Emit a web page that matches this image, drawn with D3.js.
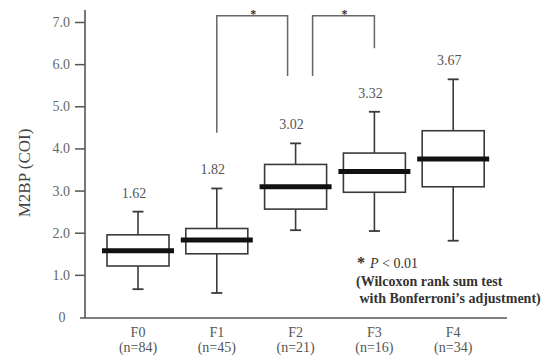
<!DOCTYPE html>
<html>
<head>
<meta charset="utf-8">
<script src="https://cdn.jsdelivr.net/npm/d3@7"></script>
<style>
  html, body { margin: 0; padding: 0; background: #fff; }
  svg { display: block; }
  text { font-family: "Liberation Serif", "Times New Roman", serif; }
</style>
</head>
<body>
<svg id="chart" width="560" height="359"></svg>
<script>
// ---- data ----
const categories = ["F0", "F1", "F2", "F3", "F4"];
const sampleSizes = ["(n=84)", "(n=45)", "(n=21)", "(n=16)", "(n=34)"];
const whiskerLow  = [0.66, 0.57, 2.06, 2.04, 1.81];
const q1Values    = [1.21, 1.50, 2.56, 2.96, 3.09];
const medians     = [1.57, 1.83, 3.09, 3.45, 3.75];
const q3Values    = [1.95, 2.10, 3.62, 3.89, 4.42];
const whiskerHigh = [2.50, 3.05, 4.12, 4.87, 5.64];
const medianLabels = ["1.62", "1.82", "3.02", "3.32", "3.67"];
const yTicks = [0, 1, 2, 3, 4, 5, 6, 7];
const yTickLabels = ["0", "1.0", "2.0", "3.0", "4.0", "5.0", "6.0", "7.0"];
// significance brackets: left category, right category, top value, left leg end, right leg end
const bracketFrom = ["F1", "F2"];
const bracketTo   = ["F2", "F3"];
const bracketTop  = [7.15, 7.15];
const bracketLeftEnd  = [4.37, 5.72];
const bracketRightEnd = [5.72, 6.38];
const legendLines = ["(Wilcoxon rank sum test", " with Bonferroni\u2019s adjustment)"];

// ---- layout ----
const svg = d3.select("#chart");
const x = d3.scalePoint().domain(categories).range([138, 453.2]);
const y = d3.scaleLinear().domain([0, 7]).range([317, 22]);
const axisX = 85;
const baseY = 318;
const boxW = 62, medW = 72, capW = 11;
const ink = "#3a3a3a";

// y axis
svg.append("line").attr("x1", axisX).attr("x2", axisX)
  .attr("y1", 10).attr("y2", baseY)
  .attr("stroke", "#555").attr("stroke-width", 1.6);
// x axis
svg.append("line").attr("x1", 80).attr("x2", 507)
  .attr("y1", baseY).attr("y2", baseY)
  .attr("stroke", "#555").attr("stroke-width", 1.6);

const yAxis = d3.axisLeft(y).tickValues(yTicks.filter(d => d > 0))
  .tickSize(10).tickPadding(5)
  .tickFormat(d => yTickLabels[yTicks.indexOf(d)]);
const gy = svg.append("g").attr("transform", `translate(${axisX},0)`).call(yAxis);
gy.select(".domain").remove();
gy.selectAll(".tick line").attr("stroke", "#555").attr("stroke-width", 1.5);
gy.selectAll(".tick text").attr("fill", "#666").attr("font-size", 14)
  .style("font-family", "'Liberation Serif', serif");
svg.append("text").attr("x", 62).attr("y", baseY + 4).attr("text-anchor", "middle")
  .attr("fill", "#666").attr("font-size", 14).text(yTickLabels[0]);

// y label
svg.append("text")
  .attr("transform", "translate(30,173) rotate(-90)")
  .attr("text-anchor", "middle").attr("fill", "#444").attr("font-size", 17)
  .text("M2BP (COI)");

// x labels
const gx = svg.append("g");
categories.forEach((c, i) => {
  gx.append("text").attr("x", x(c)).attr("y", 337).attr("text-anchor", "middle")
    .attr("fill", "#555").attr("font-size", 14).text(c);
  gx.append("text").attr("x", x(c)).attr("y", 352).attr("text-anchor", "middle")
    .attr("fill", "#555").attr("font-size", 14).text(sampleSizes[i]);
});

// boxes
const boxes = svg.append("g");
categories.forEach((c, i) => {
  const cx = x(c);
  const g = boxes.append("g");
  g.append("line").attr("x1", cx).attr("x2", cx)
    .attr("y1", y(whiskerHigh[i])).attr("y2", y(q3Values[i]))
    .attr("stroke", ink).attr("stroke-width", 1.6);
  g.append("line").attr("x1", cx).attr("x2", cx)
    .attr("y1", y(q1Values[i])).attr("y2", y(whiskerLow[i]))
    .attr("stroke", ink).attr("stroke-width", 1.6);
  [whiskerHigh[i], whiskerLow[i]].forEach(v => {
    g.append("line").attr("x1", cx - capW / 2).attr("x2", cx + capW / 2)
      .attr("y1", y(v)).attr("y2", y(v))
      .attr("stroke", ink).attr("stroke-width", 1.8);
  });
  g.append("rect").attr("x", cx - boxW / 2).attr("width", boxW)
    .attr("y", y(q3Values[i])).attr("height", y(q1Values[i]) - y(q3Values[i]))
    .attr("fill", "#fff").attr("stroke", ink).attr("stroke-width", 1.6);
  g.append("line").attr("x1", cx - medW / 2).attr("x2", cx + medW / 2)
    .attr("y1", y(medians[i])).attr("y2", y(medians[i]))
    .attr("stroke", "#111").attr("stroke-width", 5);
  svg.append("text").attr("x", cx - 4).attr("y", y(whiskerHigh[i]) - 14)
    .attr("text-anchor", "middle").attr("fill", "#555").attr("font-size", 14)
    .text(medianLabels[i]);
});

// brackets
bracketFrom.forEach((f, i) => {
  const xl = x(f) + (i === 0 ? 0 : 17);
  const xr = x(bracketTo[i]) + (i === 0 ? -8 : 0);
  const yt = y(bracketTop[i]);
  svg.append("path")
    .attr("d", `M${xl},${y(bracketLeftEnd[i])} V${yt} H${xr} V${y(bracketRightEnd[i])}`)
    .attr("fill", "none").attr("stroke", "#666").attr("stroke-width", 1.5);
  svg.append("text").attr("x", (xl + xr) / 2 + 1).attr("y", yt + 2)
    .attr("text-anchor", "middle").attr("fill", "#333").attr("font-size", 12)
    .attr("font-weight", "bold").text("*");
});

// legend
const lg = svg.append("text").attr("x", 357).attr("y", 268).attr("fill", "#333")
  .attr("font-size", 14).attr("font-weight", "bold");
lg.append("tspan").attr("font-size", 16).text("*");
lg.append("tspan").attr("dx", 5).attr("font-style", "italic").attr("font-weight", "normal").text("P");
lg.append("tspan").attr("font-weight", "normal").text(" < 0.01");
legendLines.forEach((t, i) => {
  svg.append("text").attr("x", 356).attr("y", 286 + i * 17)
    .attr("fill", "#333").attr("font-size", 14).attr("font-weight", "bold")
    .attr("xml:space", "preserve").style("white-space", "pre").text(t);
});
</script>
</body>
</html>
